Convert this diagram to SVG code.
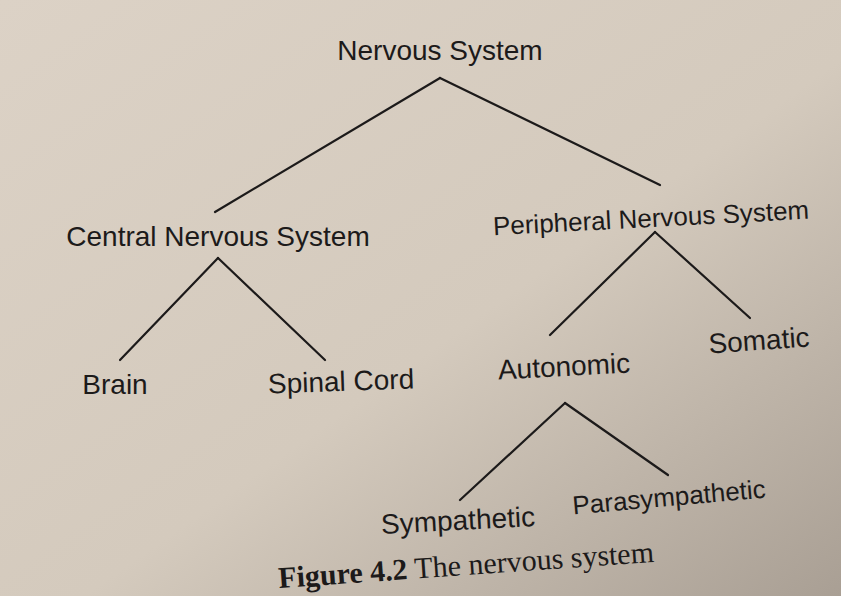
<svg xmlns="http://www.w3.org/2000/svg" width="841" height="596" viewBox="0 0 841 596">
<defs>
<linearGradient id="bg" x1="0" y1="0" x2="1" y2="1">
<stop offset="0" stop-color="#dcd2c6"/>
<stop offset="0.55" stop-color="#d4cabd"/>
<stop offset="1" stop-color="#a99f94"/>
</linearGradient>
<style>
.n{font-family:"Liberation Sans",Arial,sans-serif;font-size:28px;fill:#1c1a1a}
.s{font-size:26px}
.f{font-family:"Liberation Serif","Times New Roman",serif;font-size:30px;fill:#1c1a1a}
.c line{stroke:#1c1a1a;stroke-width:2.2;stroke-linecap:round}
</style>
</defs>
<rect width="841" height="596" fill="url(#bg)"/>
<g class="c" id="connectors">
<line x1="440" y1="78" x2="215" y2="212"/>
<line x1="440" y1="78" x2="660" y2="185"/>
<line x1="218" y1="258" x2="120" y2="360"/>
<line x1="218" y1="258" x2="325" y2="360"/>
<line x1="655" y1="232" x2="550" y2="335"/>
<line x1="655" y1="232" x2="750" y2="318"/>
<line x1="565" y1="403" x2="460" y2="500"/>
<line x1="565" y1="403" x2="668" y2="475"/>
</g>
<g id="nervous"><text class="n" x="440" y="60" text-anchor="middle">Nervous System</text></g>
<g id="cns"><text class="n" x="218" y="246" text-anchor="middle">Central Nervous System</text></g>
<g id="pns"><text class="n s" x="651" y="227" text-anchor="middle" transform="rotate(-3 651 218)">Peripheral Nervous System</text></g>
<g id="brain"><text class="n" x="115" y="394" text-anchor="middle">Brain</text></g>
<g id="spinal"><text class="n" x="341" y="391" text-anchor="middle" transform="rotate(-2 341 381)">Spinal Cord</text></g>
<g id="autonomic"><text class="n" x="564" y="376" text-anchor="middle" transform="rotate(-3 564 366)">Autonomic</text></g>
<g id="somatic"><text class="n" x="759" y="350" text-anchor="middle" font-size="25" transform="rotate(-4 759 341)">Somatic</text></g>
<g id="sympathetic"><text class="n" x="458" y="530" text-anchor="middle" transform="rotate(-3 458 520)">Sympathetic</text></g>
<g id="parasympathetic"><text class="n s" x="669" y="506" text-anchor="middle" transform="rotate(-5 669 497)">Parasympathetic</text></g>
<g id="caption"><text class="f" x="466" y="575" text-anchor="middle" transform="rotate(-4 466 565)"><tspan font-weight="bold">Figure 4.2</tspan> The nervous system</text></g>
</svg>
